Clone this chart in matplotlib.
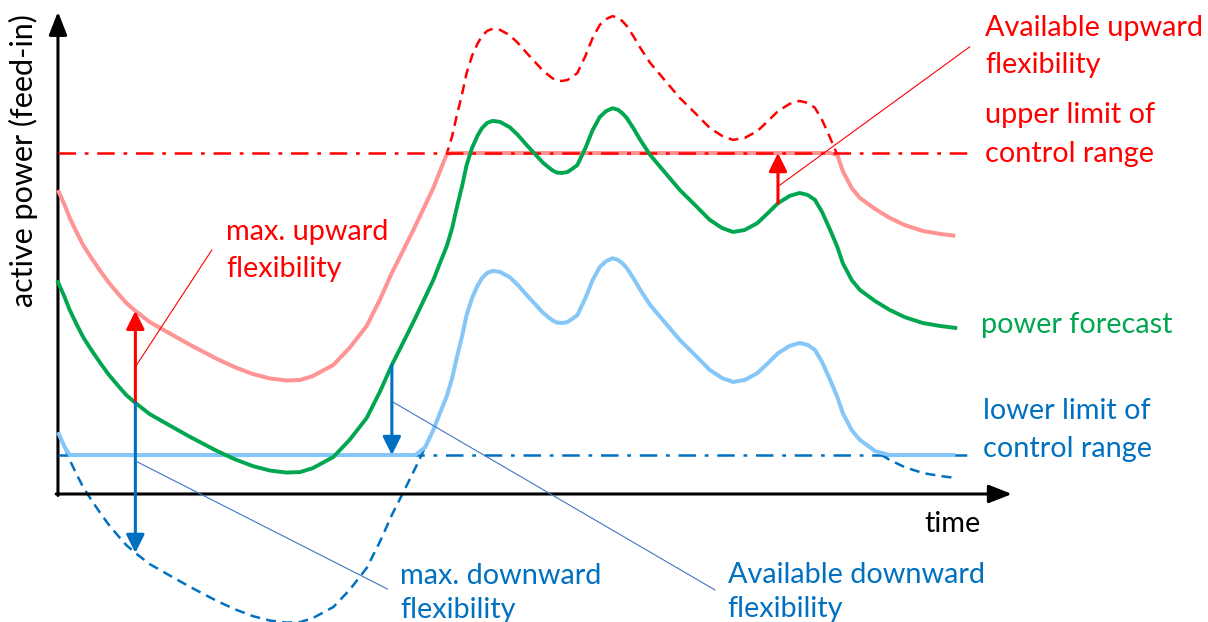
import numpy as np
import matplotlib
matplotlib.use("Agg")
import matplotlib.pyplot as plt

plt.rcParams['font.family'] = ['Lato', 'DejaVu Sans']

# Time (arbitrary units) and forecast of the active power feed-in
time = np.array([
    0.0, 0.7, 1.3, 2.0, 2.8, 3.7, 4.7, 5.6, 6.6, 7.6, 8.6, 10.2, 12.1,
    14.7, 17.7, 19.7, 21.7, 23.6, 25.4, 26.9, 28.3, 29.4, 30.6, 32.4, 34.3,
    35.8, 37.1, 38.6, 39.7, 40.8, 41.7, 42.4, 43.2, 43.8, 44.3, 44.9, 45.4,
    46.0, 46.6, 47.1, 47.7, 48.3, 49.1, 50.2, 51.1, 52.1, 53.0, 53.9, 54.9,
    55.4, 56.0, 56.6, 57.1, 57.7, 58.6, 59.4, 60.2, 60.9, 61.6, 62.2, 62.7,
    63.2, 64.0, 64.7, 65.8, 67.4, 69.1, 70.8, 72.4, 73.8, 75.0, 76.3, 77.7,
    78.9, 80.0, 81.3, 82.4, 83.3, 84.1, 84.9, 85.8, 86.6, 87.2, 88.2, 89.1,
    90.8, 92.4, 94.1, 96.1, 98.0, 99.7])
forecast = np.array([
    43.5, 40.6, 37.8, 35.1, 32.2, 29.6, 26.9, 24.6, 22.4, 20.3, 18.7, 16.4, 14.4,
    11.7, 8.8, 7.1, 5.7, 4.8, 4.4, 4.5, 5.3, 6.4, 7.6, 11.1, 15.6,
    21.1, 26.5, 32.0, 36.1, 40.4, 43.9, 47.2, 50.9, 54.6, 58.7, 63.2, 67.5,
    71.0, 73.5, 75.1, 76.2, 76.6, 76.4, 75.3, 73.7, 71.6, 69.8, 68.0, 66.5,
    66.0, 65.9, 66.1, 66.7, 67.5, 71.0, 74.7, 77.4, 78.6, 79.2, 78.9, 78.2,
    77.2, 74.9, 72.7, 69.6, 66.1, 62.4, 59.3, 56.3, 54.6, 53.8, 54.2, 55.6,
    57.7, 59.7, 61.2, 61.8, 61.4, 60.4, 57.9, 54.2, 50.7, 47.4, 43.9, 41.9,
    39.6, 37.8, 36.3, 35.1, 34.5, 34.1])

# Control range and flexibility of the plant
upper_limit = 70.0
lower_limit = 8.0
max_up_flex = 18.9
max_down_flex = 30.8
range_end = 101.7

# Times at which the flexibilities are marked
t_max_flex = 8.6
t_avail_down = 37.1
t_avail_up = 80.0

upper_potential = forecast + max_up_flex
lower_potential = forecast - max_down_flex
avail_upper = np.minimum(upper_potential, upper_limit)
avail_lower = np.maximum(lower_potential, lower_limit)

RED = '#FF0000'
PINK = '#FF9494'
GREEN = '#00A650'
BLUE = '#0070C0'
LIGHTBLUE = '#86C7F9'
LEADER = '#4472C4'

fig = plt.figure(figsize=(12.08, 6.22), dpi=100)
ax = fig.add_axes([0, 0, 1, 1])
ax.set_xlim(-6.44, 127.78)
ax.set_ylim(-26.28, 101.42)
ax.axis('off')

# coordinate axes with arrow heads
arrow_axis = dict(arrowstyle='-|>,head_length=1.4,head_width=0.55',
                  lw=2.2, color='black', shrinkA=0, shrinkB=0)
ax.annotate('', xy=(106.0, 0), xytext=(-0.2, 0), arrowprops=arrow_axis)
ax.annotate('', xy=(0, 99.0), xytext=(0, -0.3), arrowprops=arrow_axis)

dashdot = (0, (7, 3.5, 1.5, 3.5))
line_kw = dict(solid_joinstyle='round', dash_joinstyle='round')
# potential curves (dashed) below the available ones
ax.plot(time, upper_potential, color=RED, lw=1.8, ls=(0, (4, 2.5)), zorder=2, **line_kw)
ax.plot(time, lower_potential, color=BLUE, lw=1.8, ls=(0, (4, 2.5)), zorder=2, **line_kw)
ax.plot(time, avail_upper, color=PINK, lw=2.9, solid_capstyle='butt', zorder=3, **line_kw)
ax.plot([0, range_end], [lower_limit, lower_limit], color=BLUE, lw=1.8, ls=dashdot, zorder=3)
ax.plot(time, avail_lower, color=LIGHTBLUE, lw=2.9, solid_capstyle='butt', zorder=4, **line_kw)
ax.plot([0, range_end], [upper_limit, upper_limit], color=RED, lw=1.8, ls=dashdot, zorder=4)
ax.plot(time, forecast, color=GREEN, lw=2.8, zorder=5, **line_kw)

# flexibility arrows
def flex_arrow(x, y0, y1, color):
    ax.annotate('', xy=(x, y1), xytext=(x, y0), zorder=6,
                arrowprops=dict(arrowstyle='-|>,head_length=1.1,head_width=0.55',
                                lw=2.2, color=color, shrinkA=0, shrinkB=0))

f_max = np.interp(t_max_flex, time, forecast)
f_down = np.interp(t_avail_down, time, forecast)
f_up = np.interp(t_avail_up, time, forecast)
flex_arrow(t_max_flex, f_max, f_max + max_up_flex, RED)
flex_arrow(t_max_flex, f_max, f_max - max_down_flex, BLUE)
flex_arrow(t_avail_down, f_down, lower_limit, BLUE)
flex_arrow(t_avail_up, f_up, upper_limit, RED)

# leader lines to the labels
ax.plot([8.6, 17.1], [26.1, 50.1], color=RED, lw=0.8, zorder=6)
ax.plot([80.2, 101.3], [63.4, 91.8], color=RED, lw=0.8, zorder=6)
ax.plot([8.8, 36.6], [6.6, -19.5], color=LEADER, lw=0.8, zorder=6)
ax.plot([37.2, 73.0], [18.9, -19.7], color=LEADER, lw=0.8, zorder=6)

fs = 20.8
def label(x, y, s, color):
    ax.text(x, y, s, color=color, fontsize=fs, ha='left', va='baseline', zorder=7)

label(18.7, 52.1, 'max. upward', RED)
label(18.7, 44.5, 'flexibility', RED)
label(103.0, 94.0, 'Available upward', RED)
label(103.0, 86.4, 'flexibility', RED)
label(103.0, 76.2, 'upper limit of', RED)
label(103.0, 68.2, 'control range', RED)
label(102.6, 33.1, 'power forecast', GREEN)
label(102.8, 15.4, 'lower limit of', BLUE)
label(102.8, 7.6, 'control range', BLUE)
label(38.0, -18.5, 'max. downward', BLUE)
label(38.0, -25.5, 'flexibility', BLUE)
label(74.4, -18.3, 'Available downward', BLUE)
label(74.4, -25.3, 'flexibility', BLUE)
label(96.3, -7.8, 'time', 'black')
ax.text(-3.8, 68.4, 'active power (feed-in)', rotation=90, fontsize=22,
        ha='center', va='center', color='black')

fig.savefig('out.png', dpi=100)
